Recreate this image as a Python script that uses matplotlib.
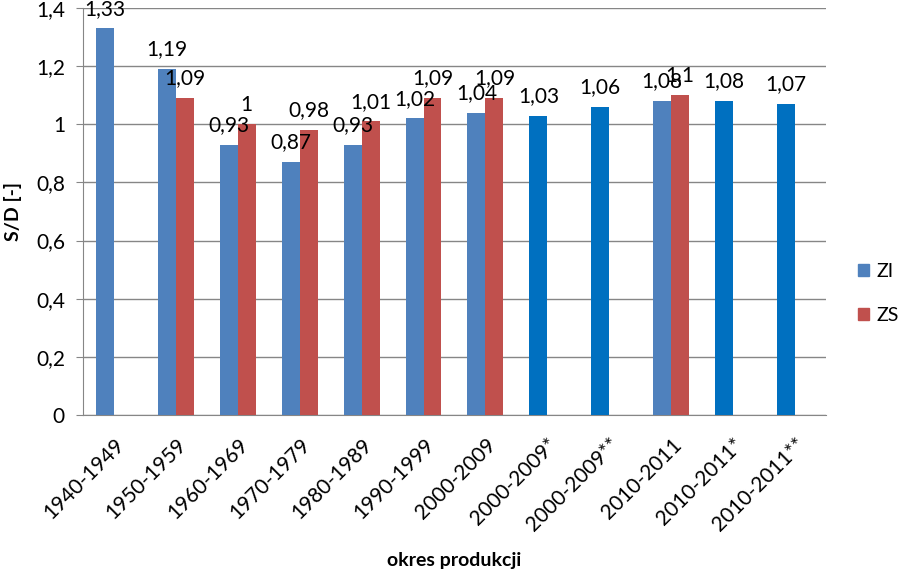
import numpy as np
import matplotlib
matplotlib.use("Agg")
import matplotlib.pyplot as plt
from matplotlib.ticker import FuncFormatter
from matplotlib.patches import Patch

okresy = ["1940-1949", "1950-1959", "1960-1969", "1970-1979", "1980-1989",
          "1990-1999", "2000-2009", "2000-2009*", "2000-2009**", "2010-2011",
          "2010-2011*", "2010-2011**"]
zi = [1.33, 1.19, 0.93, 0.87, 0.93, 1.02, 1.04, 1.03, 1.06, 1.08, 1.08, 1.07]
zs = [np.nan, 1.09, 1.00, 0.98, 1.01, 1.09, 1.09, np.nan, np.nan, 1.10, np.nan, np.nan]

plt.rcParams['font.family'] = ['Lato', 'DejaVu Sans']


def fmt(v):
    return f"{v:g}".replace('.', ',')


fig = plt.figure(figsize=(8.98, 5.70), dpi=100)
ax = fig.add_axes([0.0924, 0.272, 0.8274, 0.714])

x = np.arange(len(okresy))
w = 0.29
kolor_zi = ['#0070C0' if '*' in o else '#4F81BD' for o in okresy]

ax.bar(x - w / 2, zi, w, color=kolor_zi, zorder=3)
ax.bar(x + w / 2, zs, w, color='#C0504D', zorder=3)

for i in range(len(okresy)):
    ax.annotate(fmt(zi[i]), (x[i] - w / 2, zi[i]), xytext=(0, 7),
                textcoords='offset points', ha='center', va='bottom', fontsize=15)
    if not np.isnan(zs[i]):
        ax.annotate(fmt(zs[i]), (x[i] + w / 2, zs[i]), xytext=(0, 7),
                    textcoords='offset points', ha='center', va='bottom', fontsize=15)

ax.set_xlim(-0.5, len(okresy) - 0.5)
ax.set_ylim(0, 1.4)
ax.set_yticks(np.arange(0, 1.41, 0.2))
ax.yaxis.set_major_formatter(FuncFormatter(lambda v, p: fmt(round(v, 1))))
ax.grid(axis='y', color='#868686', linewidth=1, zorder=0)

for s in ['top', 'right']:
    ax.spines[s].set_visible(False)
for s in ['left', 'bottom']:
    ax.spines[s].set_color('#868686')

ax.tick_params(axis='y', length=5, color='#868686', labelsize=15, pad=8)
ax.tick_params(axis='x', length=0, labelsize=15, pad=14)
ax.set_xticks(x)
ax.set_xticklabels(okresy, rotation=45, ha='right', va='top', rotation_mode='anchor')

ax.set_ylabel("S/D [-]", fontweight='bold', fontsize=14, labelpad=10)
ax.set_xlabel("okres produkcji", fontweight='bold', fontsize=14, labelpad=12)

fig.legend(handles=[Patch(color='#4F81BD', label='ZI'), Patch(color='#C0504D', label='ZS')],
           loc='center left', bbox_to_anchor=(0.955, 0.485), frameon=False,
           fontsize=14, handlelength=0.6, handleheight=0.6, labelspacing=1.4,
           handletextpad=0.35, borderaxespad=0, borderpad=0)

fig.savefig("out.png", dpi=100)
